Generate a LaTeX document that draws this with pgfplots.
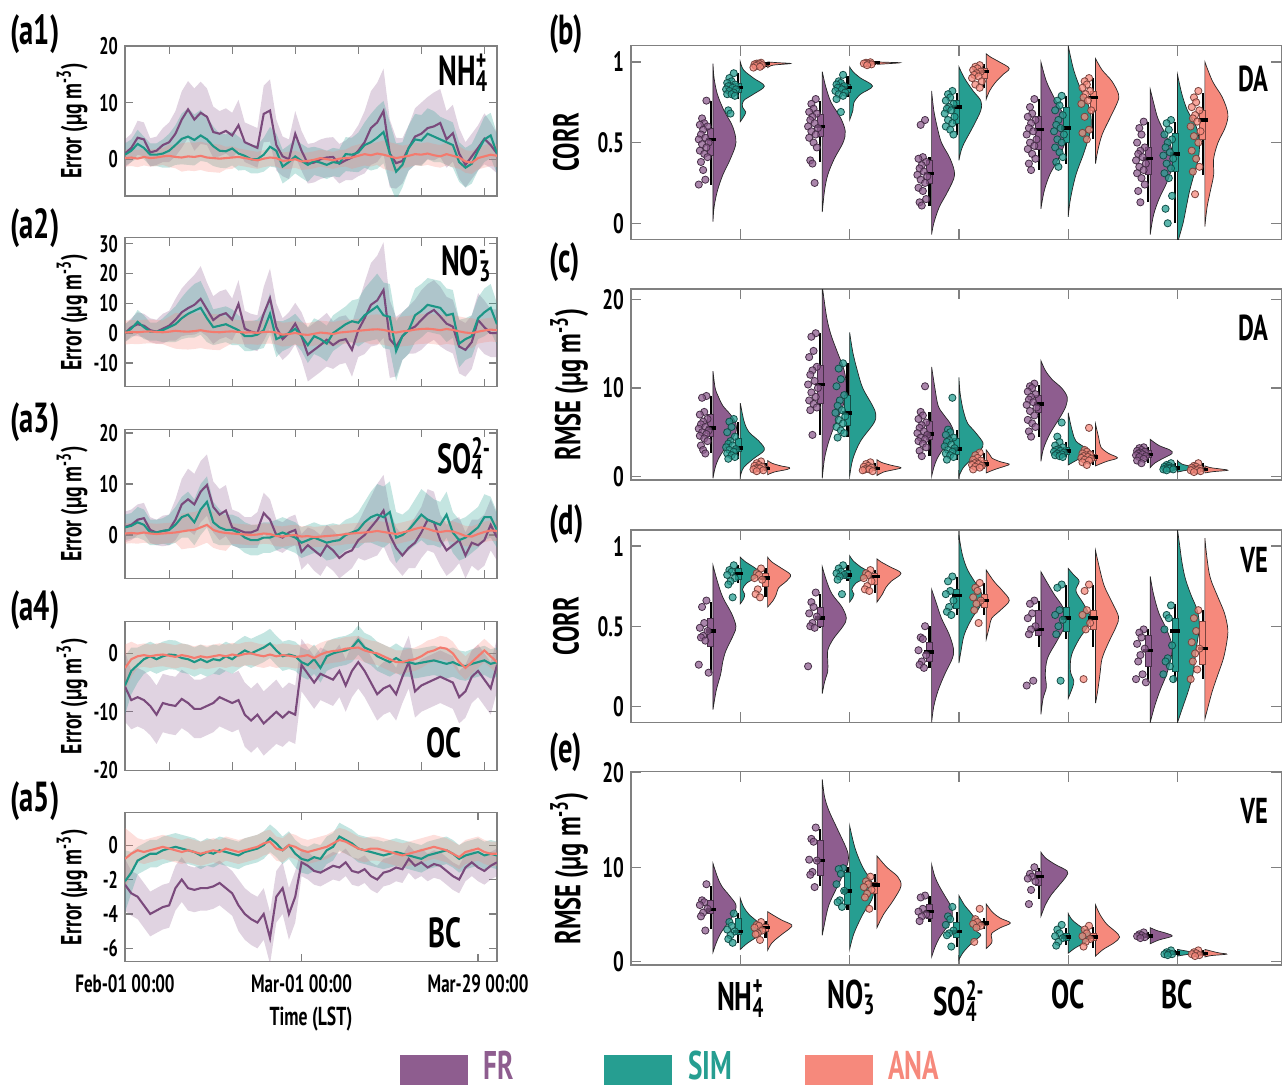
\documentclass[border=0pt]{standalone}
\usepackage{fontspec}
\setmainfont{PT Sans}[FakeStretch=0.68]
\usepackage{pgfplots}
\usepackage{pgfplotstable}
\pgfplotsset{compat=1.18}
\usepgfplotslibrary{statistics}

\definecolor{frc}{HTML}{8E5D8F}
\definecolor{simc}{HTML}{269E91}
\definecolor{anac}{HTML}{F6897C}
\definecolor{frl}{HTML}{7A4A7C}
\definecolor{siml}{HTML}{1C9686}
\definecolor{anal}{HTML}{F47A6E}

\newcommand{\ion}[3]{#1\rlap{\textsubscript{#2}}\textsuperscript{#3}}

% time series: day, mean and spread of each run
\pgfplotstableread{
d fr frs sim sims ana anas
0 1.0 2.5 0.8 2.0 0.2 1.5
1 2.0 2.5 1.5 2.0 0.3 1.5
2 3.8 3.0 2.7 2.5 0.1 1.5
3 3.5 3.0 2.0 2.0 0.4 1.5
4 1.2 2.5 0.8 2.0 0.2 1.5
5 1.5 2.5 0.8 2.0 0.3 1.5
6 2.5 3.0 1.0 2.5 0.5 1.5
7 3.0 3.5 1.5 3.0 0.6 2.0
8 4.5 4.0 2.5 3.5 0.4 2.0
9 7.0 5.0 3.6 4.5 0.3 2.5
10 8.8 5.0 4.0 5.0 0.5 2.5
11 7.0 5.5 3.4 4.5 0.4 2.5
12 8.2 5.5 4.2 4.5 0.6 2.5
13 7.5 5.0 3.5 4.0 0.3 2.5
14 4.8 4.5 2.3 3.5 0.2 2.5
15 4.5 4.0 1.5 3.0 0.1 2.5
16 5.0 4.0 1.4 3.0 0.2 2.0
17 4.2 4.0 1.9 3.0 0.3 2.0
18 6.0 4.5 1.0 3.0 0.4 1.5
19 3.0 3.5 0.6 2.5 0.2 1.5
20 2.5 3.5 0.0 2.5 0.0 1.5
21 2.0 3.5 0.0 2.5 -0.2 1.5
22 8.0 5.0 0.8 3.0 0.1 1.5
23 8.6 5.5 2.2 3.5 0.3 1.5
24 2.5 4.5 1.5 3.0 0.2 1.5
25 0.5 3.5 -1.3 3.0 -0.3 1.5
26 0.0 3.5 -0.5 3.0 -0.2 1.5
27 4.5 4.0 0.5 3.0 0.0 1.5
28 1.5 3.5 -0.3 3.0 -0.4 1.5
29 -0.8 3.5 -1.0 3.0 -0.3 1.5
30 -0.6 3.5 -0.3 2.5 -0.1 1.5
31 0.0 3.5 -0.6 2.5 0.2 1.5
32 0.3 3.5 -1.0 2.5 0.0 1.5
33 0.4 3.5 -0.5 2.5 -0.2 1.5
34 -0.8 3.5 -0.7 2.5 0.1 1.5
35 -0.2 3.5 0.9 3.0 0.2 1.5
36 0.3 4.0 0.8 3.0 0.3 2.0
37 1.5 4.5 1.2 3.5 0.6 2.0
38 3.0 5.5 2.5 4.0 0.9 2.0
39 5.5 6.5 3.0 5.0 0.7 2.0
40 6.5 7.0 3.8 5.5 1.0 2.0
41 8.5 7.5 4.8 5.5 0.8 2.5
42 1.0 6.0 1.0 5.5 0.5 2.5
43 -0.7 4.5 -2.2 5.0 0.2 2.5
44 -0.3 4.0 -1.0 4.0 0.4 2.0
45 2.0 4.0 2.0 4.0 0.6 2.0
46 4.0 5.0 3.5 4.5 0.9 2.0
47 4.5 5.5 3.3 4.5 0.8 2.0
48 5.5 5.5 4.5 4.5 1.0 2.0
49 5.8 6.0 4.0 4.5 0.7 2.0
50 6.4 6.0 3.5 4.0 0.5 2.0
51 3.5 5.0 3.0 4.0 0.9 2.0
52 4.6 5.0 2.5 4.0 0.6 2.0
53 1.0 4.5 -0.5 3.5 0.3 2.0
54 -1.0 4.0 -1.5 3.5 -0.4 2.0
55 0.5 4.0 -0.8 3.5 -0.6 2.0
56 2.0 4.0 1.5 3.5 0.2 2.0
57 3.6 4.5 3.5 4.0 0.5 2.0
58 2.5 4.0 4.2 4.0 0.8 2.0
59 1.0 3.5 1.0 3.5 0.6 2.0
}\tNH
\pgfplotstableread{
d fr frs sim sims ana anas
0 0.0 3 0.0 3 0.2 4
1 2.0 3 1.5 3 0.4 4
2 3.0 4 3.8 4 0.3 4
3 2.5 4 2.0 4 0.5 4
4 1.0 4 0.5 3 0.6 4
5 0.5 4 0.5 3 0.4 4
6 1.5 5 1.0 4 0.3 4
7 2.5 5 2.0 5 0.5 5
8 4.5 7 3.0 6 0.8 6
9 7.0 8 5.0 7 0.6 6
10 8.4 9 6.5 8 0.5 6
11 9.5 10 7.5 9 0.7 6
12 11.5 11 8.5 9 1.0 6
13 8.0 9 5.0 8 0.6 6
14 4.4 8 2.0 6 0.4 6
15 6.0 8 2.5 6 0.3 6
16 6.7 8 3.0 6 0.5 5
17 4.6 7 2.0 6 0.6 4
18 9.8 8 1.0 5 0.4 4
19 1.5 6 -1.0 5 0.2 4
20 0.5 6 -1.0 5 0.3 4
21 0.0 6 -0.5 5 0.1 4
22 6.5 9 1.0 6 0.4 4
23 11.7 10 6.5 7 0.5 4
24 2.0 8 -2.0 6 0.2 4
25 -2.0 7 -1.0 5 -0.5 4
26 0.0 7 0.0 5 -0.3 4
27 3.2 7 1.5 5 0.1 4
28 -1.0 8 -1.0 5 -0.4 4
29 -7.2 9 -4.0 6 -0.6 4
30 -5.6 9 -1.0 6 -0.2 4
31 -4.0 9 -2.0 6 0.2 4
32 -2.2 9 -3.5 6 0.0 4
33 -4.0 8 0.0 6 -0.3 4
34 -2.5 8 1.5 6 0.2 4
35 -2.0 8 3.0 6 0.4 4
36 -5.6 9 4.0 7 0.6 4
37 1.0 9 3.5 8 0.8 4
38 5.0 12 6.0 9 1.0 4
39 9.5 14 7.5 10 1.2 5
40 11.0 15 9.0 11 1.3 5
41 14.5 16 6.0 11 1.1 5
42 -2.0 13 5.5 11 0.6 5
43 -4.5 10 -6.0 10 0.2 5
44 -1.0 8 -1.0 8 0.6 5
45 1.1 8 1.0 8 0.8 5
46 2.2 9 6.0 9 1.2 5
47 4.4 10 7.5 9 1.4 5
48 6.5 10 9.5 9 1.5 5
49 7.8 10 9.0 9 1.3 5
50 5.6 10 8.5 9 1.0 5
51 3.2 9 6.0 9 1.4 5
52 2.2 9 6.5 8 1.1 5
53 -4.5 9 -3.5 8 0.6 5
54 -5.6 9 -2.0 7 0.2 5
55 -3.0 9 -1.0 7 0.0 5
56 4.4 9 5.0 7 0.5 4
57 2.0 9 7.0 8 0.9 4
58 0.0 8 8.5 8 1.2 4
59 0.0 8 3.0 7 1.0 4
}\tNO
\pgfplotstableread{
d fr frs sim sims ana anas
0 1.6 3 1.5 2.5 0.3 2
1 2.0 3 1.8 2.5 0.4 2
2 3.0 3 2.5 3 0.3 2
3 3.3 3 2.0 3 0.5 2
4 1.0 2.5 0.5 2.5 0.3 2
5 0.5 2.5 0.5 2.5 0.2 2
6 0.8 3 0.8 2.5 0.3 2
7 1.0 3 1.0 3 0.4 2
8 3.0 4 2.0 3.5 0.5 2
9 6.0 5 3.5 4 0.7 3.5
10 7.0 6 4.0 4.5 0.9 3.5
11 6.0 6 2.5 4.5 1.0 3.5
12 8.5 6 5.0 5 1.5 3.5
13 9.8 6 6.5 5 2.0 3.5
14 5.5 5 2.5 4 1.0 3.5
15 4.0 5 1.5 3.5 0.6 3.5
16 4.8 5 1.0 3 0.4 3.5
17 1.5 3.5 1.0 3 0.3 2
18 1.0 3.5 0.5 3 0.2 2
19 0.5 3 -0.5 3 0.1 2
20 0.5 3 -1.0 3 0.0 2
21 1.0 3.5 -1.0 3 0.1 2
22 4.3 4 -0.5 3 0.3 2
23 3.0 4 -0.5 3 0.2 2
24 0.0 3 0.0 3 -0.2 2
25 -0.5 3 0.5 3 -0.3 2
26 0.5 3 0.0 3 -0.1 2
27 1.0 3 -0.5 3 0.0 2
28 -3.3 3.5 -1.5 3 -0.3 2
29 -2.0 3.5 -1.0 3 -0.2 2
30 -3.0 4 -0.5 3 -0.4 2
31 -4.0 4 -1.0 3 -0.3 2
32 -2.0 4 -1.5 3.5 -0.2 2
33 -3.0 4 -1.2 3.5 -0.1 2
34 -4.5 4 -1.0 3 0.0 2
35 -3.5 4 0.0 3 0.2 2
36 -3.0 3.5 0.5 3 0.3 2
37 -1.0 3.5 1.0 3.5 0.4 2
38 0.0 5 2.5 4 0.5 2
39 1.5 6 3.5 5 0.6 2
40 3.0 7 4.0 6 0.8 2
41 4.8 7 3.5 6 0.6 2
42 0.0 5 4.5 6 0.4 2
43 -2.5 4 -0.5 5 0.2 2
44 -4.0 4 0.0 4 0.5 2
45 -2.5 4 1.0 4 0.8 2
46 -1.5 5 2.5 4.5 1.2 2
47 0.5 5 4.0 5 1.5 2
48 3.0 6 3.0 5 1.2 2
49 2.5 6 2.5 4.5 0.8 2
50 -1.0 5 2.0 4.5 0.6 2
51 -3.0 5 4.0 4.5 0.8 2
52 -2.0 5 0.5 4 0.7 2
53 -1.0 4.5 -1.0 4 0.3 2
54 -4.0 4.5 -0.5 4 -0.2 2
55 -1.5 4.5 0.5 4 -0.3 2
56 -2.0 5 1.5 4 0.2 2
57 -1.0 5 3.5 4.5 0.6 2
58 2.0 5 3.5 4 0.9 2
59 -0.5 4.5 1.0 3.5 0.8 2
}\tSO
\pgfplotstableread{
d fr frs sim sims ana anas
0 -5.7 6 -5.5 5 -2.5 4
1 -8.0 5 -3.0 4 -1.0 3
2 -7.5 5 -2.0 3 -0.5 2
3 -8.0 5 -1.0 2.5 -0.3 2
4 -9.0 5 -0.5 2.5 -0.5 2
5 -10.5 5 -1.0 2.5 -0.3 2
6 -8.5 5 -0.5 2.5 -0.2 2
7 -8.8 5 -0.2 2.5 -0.4 2
8 -9.0 5 -0.3 2.5 -0.6 2
9 -7.8 5 -0.8 2.5 -0.3 2
10 -8.5 5 -1.0 2.5 -0.5 2
11 -9.5 5 -1.5 2.5 -0.8 2
12 -9.5 5 -1.0 2.5 -0.5 2
13 -9.0 5 -1.5 2.5 -0.7 2
14 -8.5 5 -1.0 2.5 -0.5 2
15 -7.5 5 -1.2 2.5 -0.3 2
16 -8.0 5 -0.5 2.5 -0.5 2
17 -8.5 5 -1.0 2.5 -0.2 2
18 -8.0 5 -0.2 2.5 -0.4 2
19 -10.5 5.5 0.5 2.5 -0.1 2
20 -11.5 5.5 0.0 2.5 0.0 2
21 -10.5 5.5 0.5 2.5 -0.3 2
22 -12.0 5.5 1.0 2.5 -0.5 2
23 -11.0 5.5 1.7 2.5 -0.2 2
24 -10.0 5.5 0.5 2.5 -0.5 2
25 -11.0 5 -0.5 2.5 -0.3 2
26 -10.0 5 -0.2 2.5 -0.4 2
27 -10.5 5 -0.5 2.5 -0.6 2
28 -2.0 4.5 -1.5 2.5 -0.5 2
29 -3.5 4.5 -2.0 2.5 -0.3 2
30 -5.0 4.5 -1.0 2.5 -0.8 2
31 -3.5 4.5 -2.5 2.5 -0.2 2
32 -4.0 4.5 -0.5 2.5 0.2 2
33 -4.5 4.5 0.0 2.5 0.4 2
34 -3.0 4.5 0.3 2.5 0.5 2
35 -5.5 4.5 0.5 2.5 0.8 2
36 -3.0 4.5 1.0 2.5 0.9 2
37 -1.5 4.5 2.3 2.5 1.0 2
38 -3.0 4.5 1.0 2.5 0.5 2
39 -5.0 4.5 0.5 2.5 0.2 2
40 -7.0 4.5 -0.5 2.5 0.0 2
41 -6.0 4.5 -1.0 2.5 -0.5 2
42 -5.5 4.5 -1.5 2.5 -1.0 2
43 -7.0 4.5 -0.8 2.5 -1.5 2
44 -4.0 4.5 -1.5 2.5 -1.5 2
45 -1.5 4.5 -1.5 2.5 -1.2 2
46 -6.5 4.5 -1.8 2.5 -1.0 2
47 -5.5 4.5 -1.6 2.5 -0.5 2
48 -5.0 4.5 -1.4 2.5 0.2 2
49 -4.5 4.5 -1.2 2.5 0.5 2
50 -4.0 4.5 -1.5 2.5 1.0 2
51 -4.5 4.5 -1.8 2.5 0.8 2
52 -5.0 4.5 -1.5 2.5 0.0 2
53 -7.5 4.5 -2.0 2.5 -1.5 2
54 -6.5 4.5 -2.2 2.5 -2.5 2
55 -4.0 4.5 -1.8 2.5 -1.5 2
56 -3.0 4.5 -1.5 2.5 -0.5 2
57 -4.5 4.5 -1.2 2.5 0.5 2
58 -6.0 4.5 -1.8 2.5 -0.5 2
59 -2.0 4.5 -1.5 2.5 -1.5 2
}\tOC
\pgfplotstableread{
d fr frs sim sims ana anas
0 -2.3 1.5 -2.1 1.8 -0.8 1.8
1 -2.8 1.3 -1.6 1.2 -0.5 1.2
2 -3.0 1.3 -0.9 0.8 -0.3 0.7
3 -3.5 1.3 -0.7 0.8 -0.4 0.7
4 -4.0 1.3 -0.5 0.8 -0.3 0.7
5 -3.8 1.3 -0.5 0.8 -0.2 0.7
6 -3.6 1.3 -0.3 0.8 -0.1 0.7
7 -3.5 1.3 -0.2 0.8 -0.2 0.7
8 -2.5 1.3 -0.1 0.8 -0.3 0.7
9 -2.0 1.3 -0.2 0.8 -0.4 0.7
10 -2.5 1.3 -0.3 0.8 -0.3 0.7
11 -2.6 1.3 -0.4 0.8 -0.4 0.7
12 -2.5 1.3 -0.6 0.8 -0.5 0.7
13 -2.5 1.3 -0.4 0.8 -0.4 0.7
14 -2.4 1.3 -0.5 0.8 -0.3 0.7
15 -2.2 1.3 -0.3 0.8 -0.4 0.7
16 -2.5 1.3 -0.4 0.8 -0.2 0.7
17 -2.8 1.3 -0.5 0.8 -0.3 0.7
18 -3.5 1.5 -0.6 0.8 -0.4 0.7
19 -4.0 1.5 -0.4 0.8 -0.3 0.7
20 -4.3 1.5 -0.3 0.8 -0.2 0.7
21 -4.5 1.5 -0.2 0.8 -0.1 0.7
22 -4.0 1.5 0.0 0.8 0.1 0.7
23 -5.4 1.5 0.4 0.8 0.2 0.7
24 -3.0 1.5 0.1 0.8 -0.2 0.7
25 -2.5 1.5 -0.3 0.8 -0.3 0.7
26 -4.0 1.5 0.0 0.8 0.0 0.7
27 -3.0 1.5 -0.5 0.8 -0.1 0.7
28 -1.0 0.8 -0.8 0.8 -0.3 0.7
29 -1.2 0.8 -0.9 0.8 -0.4 0.7
30 -1.5 0.8 -0.7 0.8 -0.3 0.7
31 -1.6 0.8 -0.8 0.8 -0.2 0.7
32 -1.4 0.8 -0.3 0.8 -0.1 0.7
33 -1.2 0.8 -0.1 0.8 0.1 0.7
34 -1.3 0.8 0.5 0.8 0.3 0.7
35 -1.0 0.8 0.3 0.8 0.2 0.7
36 -1.5 0.8 0.1 0.8 0.0 0.7
37 -1.6 0.8 -0.2 0.8 -0.2 0.7
38 -1.4 0.8 -0.3 0.8 -0.3 0.7
39 -1.8 0.8 -0.4 0.8 -0.2 0.7
40 -2.0 0.8 -0.5 0.8 -0.2 0.7
41 -1.6 0.8 -0.6 0.8 -0.3 0.7
42 -1.5 0.8 -0.5 0.8 -0.4 0.7
43 -1.3 0.8 -0.4 0.8 -0.5 0.7
44 -1.4 0.8 -0.5 0.8 -0.6 0.7
45 -0.8 0.8 -0.6 0.8 -0.5 0.7
46 -1.2 0.8 -0.7 0.8 -0.4 0.7
47 -1.0 0.8 -0.8 0.8 -0.3 0.7
48 -1.3 0.8 -0.6 0.8 -0.2 0.7
49 -1.1 0.8 -0.5 0.8 -0.1 0.7
50 -1.2 0.8 -0.4 0.8 -0.2 0.7
51 -1.5 0.8 -0.3 0.8 -0.3 0.7
52 -1.8 0.8 -0.5 0.8 -0.5 0.7
53 -2.0 0.8 -0.8 0.8 -0.7 0.7
54 -1.3 0.8 -0.6 0.8 -0.4 0.7
55 -1.0 0.8 -0.5 0.8 -0.3 0.7
56 -1.3 0.8 -0.4 0.8 -0.2 0.7
57 -1.5 0.8 -0.6 0.8 -0.4 0.7
58 -1.2 0.8 -0.5 0.8 -0.5 0.7
59 -1.0 0.8 -0.6 0.8 -0.5 0.7
}\tBC

% spread band (mean - spread up to mean + spread) of one run, built with stacked plots
\newcommand{\band}[4]{%
  \addplot[draw=none, stack plots=y] table[x=d, y expr=\thisrow{#2}-\thisrow{#3}] {#1};
  \addplot[draw=none, fill=#4, fill opacity=0.27, stack plots=y] table[x=d, y expr=2*\thisrow{#3}] {#1} \closedcycle;
  \addplot[draw=none, stack plots=y] table[x=d, y expr=-\thisrow{#2}-\thisrow{#3}] {#1};}
\newcommand{\mline}[3]{\addplot[#3, line width=1.05pt] table[x=d, y=#2] {#1};}

% half violin: rows are (value, half width)
\newcommand{\vio}[3]{\addplot[smooth, tension=0.55, fill=#2, draw=black!85, line width=0.35pt]
  table[row sep=\\, header=false, x expr={#1+\thisrowno{1}}, y expr=\thisrowno{0}] {#3} -- cycle;}
% jittered stations: rows are (offset, value)
\newcommand{\pts}[3]{\addplot[only marks, mark=*, mark size=1.8pt,
  mark options={fill=#2, draw=#2!50!black, fill opacity=0.75, line width=0.4pt}]
  table[row sep=\\, header=false, x expr={#1+\thisrowno{0}}, y expr=\thisrowno{1}] {#3};}
% box: position, colour, lower whisker, q1, median, q3, upper whisker
\newcommand{\bx}[7]{\addplot[boxplot prepared={draw direction=y, draw position=#1, lower whisker=#3,
  lower quartile=#4, median=#5, upper quartile=#6, upper whisker=#7,
  box extend=0.055, whisker extend=0,
  every box/.style={fill=#2, draw=#2!50!black, line width=0.4pt},
  every whisker/.style={black, line width=1.1pt},
  every median/.style={black, line width=1.7pt, shorten <=-1pt, shorten >=-1pt}}] coordinates {};}

\pgfplotsset{
  base/.style={scale only axis,
    axis line style={black!50, line width=0.6pt},
    tick style={black!50, line width=0.6pt}, tick align=inside,
    major tick length=4pt,
    /pgf/number format/assume math mode=true},
  ts/.style={base, width=186pt, xmin=0, xmax=59,
    xtick={7,17,27,37,47,57}, xticklabels={},
    tick label style={font=\fontsize{12}{12}\selectfont},
    ylabel={Error (µg m\textsuperscript{-3})},
    every axis y label/.style={at={(axis description cs:-0.142,0.5)}, rotate=90, anchor=center,
      font=\fontsize{14.5}{14.5}\selectfont}},
  rc/.style={base, width=325.2pt, xmin=0, xmax=5.95,
    xtick={1,2,3,4,5}, xticklabels={}, major tick length=5pt,
    tick label style={font=\fontsize{14}{14}\selectfont},
    every axis y label/.style={at={(axis description cs:-0.1,0.5)}, rotate=90, anchor=center,
      font=\fontsize{18}{18}\selectfont}},
}

\begin{document}
\bfseries
\begin{tikzpicture}
\useasboundingbox (0,0) rectangle (641pt,-544pt);

% ---------------- time series ----------------
\begin{axis}[ts, at={(62.5pt,-23pt)}, anchor=north west, height=75pt,
  ymin=-6.5, ymax=20, ytick={0,10,20}]
\band{\tNH}{fr}{frs}{frc}\band{\tNH}{sim}{sims}{simc}\band{\tNH}{ana}{anas}{anac}
\mline{\tNH}{fr}{frl}\mline{\tNH}{sim}{siml}\mline{\tNH}{ana}{anal}
\node[anchor=north east, inner sep=0, font=\fontsize{21}{21}\selectfont] at (rel axis cs:0.975,0.95) {\ion{NH}{4}{+}};
\end{axis}

\begin{axis}[ts, at={(62.5pt,-118.9pt)}, anchor=north west, height=74.5pt,
  ymin=-18, ymax=32, ytick={-10,0,10,20,30}]
\band{\tNO}{fr}{frs}{frc}\band{\tNO}{sim}{sims}{simc}\band{\tNO}{ana}{anas}{anac}
\mline{\tNO}{fr}{frl}\mline{\tNO}{sim}{siml}\mline{\tNO}{ana}{anal}
\node[anchor=north east, inner sep=0, font=\fontsize{21}{21}\selectfont] at (rel axis cs:0.975,0.95) {\ion{NO}{3}{-}};
\end{axis}

\begin{axis}[ts, at={(62.5pt,-214.7pt)}, anchor=north west, height=74.5pt,
  ymin=-8.5, ymax=20.7, ytick={0,10,20}]
\band{\tSO}{fr}{frs}{frc}\band{\tSO}{sim}{sims}{simc}\band{\tSO}{ana}{anas}{anac}
\mline{\tSO}{fr}{frl}\mline{\tSO}{sim}{siml}\mline{\tSO}{ana}{anal}
\node[anchor=north east, inner sep=0, font=\fontsize{21}{21}\selectfont] at (rel axis cs:0.985,0.95) {\ion{SO}{4}{2-}};
\end{axis}

\begin{axis}[ts, at={(62.5pt,-310.9pt)}, anchor=north west, height=74.2pt,
  ymin=-20, ymax=5.4, ytick={-20,-10,0}]
\band{\tOC}{fr}{frs}{frc}\band{\tOC}{sim}{sims}{simc}\band{\tOC}{ana}{anas}{anac}
\mline{\tOC}{fr}{frl}\mline{\tOC}{sim}{siml}\mline{\tOC}{ana}{anal}
\node[anchor=south east, inner sep=0, font=\fontsize{21}{21}\selectfont] at (rel axis cs:0.906,0.08) {OC};
\end{axis}

\begin{axis}[ts, at={(62.5pt,-406.2pt)}, anchor=north west, height=74.7pt,
  ymin=-6.78, ymax=1.9, ytick={-6,-4,-2,0},
  xtick={0,28,56}, xticklabels={Feb-01 00:00, Mar-01 00:00, Mar-29 00:00},
  xticklabel style={font=\fontsize{12.5}{12.5}\selectfont, yshift=-3pt},
  xlabel={Time (LST)}, xlabel style={font=\fontsize{13}{13}\selectfont}]
\band{\tBC}{fr}{frs}{frc}\band{\tBC}{sim}{sims}{simc}\band{\tBC}{ana}{anas}{anac}
\mline{\tBC}{fr}{frl}\mline{\tBC}{sim}{siml}\mline{\tBC}{ana}{anal}
\node[anchor=south east, inner sep=0, font=\fontsize{21}{21}\selectfont] at (rel axis cs:0.906,0.09) {BC};
\end{axis}

% ---------------- (b) CORR, DA ----------------
\begin{axis}[rc, at={(315.5pt,-22.9pt)}, anchor=north west, height=96.8pt,
  ymin=-0.1, ymax=1.1, ytick={0,0.5,1}, ylabel={CORR}]
\vio{0.75}{frc}{0.01 0\\0.1 0.01\\0.2 0.04\\0.3 0.09\\0.4 0.16\\0.5 0.21\\0.6 0.18\\0.7 0.1\\0.8 0.04\\0.9 0.01\\0.99 0\\}
\vio{1.0}{simc}{0.63 0\\0.66 0.03\\0.69 0.05\\0.72 0.02\\0.76 0.03\\0.8 0.12\\0.85 0.22\\0.9 0.12\\0.95 0.03\\1.0 0\\}
\vio{1.25}{anac}{0.965 0\\0.98 0.05\\0.99 0.21\\0.995 0.1\\1.0 0\\}
\vio{1.75}{frc}{0.07 0\\0.2 0.02\\0.3 0.05\\0.4 0.11\\0.5 0.19\\0.57 0.21\\0.65 0.17\\0.75 0.08\\0.85 0.03\\0.94 0\\}
\vio{2.0}{simc}{0.64 0\\0.7 0.03\\0.75 0.04\\0.8 0.1\\0.85 0.21\\0.9 0.1\\0.94 0.03\\0.97 0\\}
\vio{2.25}{anac}{0.985 0\\0.99 0.12\\0.995 0.21\\0.998 0.08\\1.0 0\\}
\vio{2.75}{frc}{-0.07 0\\0.0 0.02\\0.1 0.07\\0.2 0.15\\0.3 0.21\\0.4 0.17\\0.5 0.09\\0.6 0.05\\0.7 0.02\\0.82 0\\}
\vio{3.0}{simc}{0.39 0\\0.45 0.02\\0.5 0.05\\0.6 0.13\\0.7 0.2\\0.76 0.2\\0.82 0.13\\0.9 0.05\\0.97 0\\}
\vio{3.25}{anac}{0.77 0\\0.82 0.03\\0.87 0.08\\0.92 0.15\\0.96 0.21\\1.0 0.12\\1.03 0.04\\1.05 0\\}
\vio{3.75}{frc}{0.09 0\\0.2 0.03\\0.3 0.08\\0.4 0.16\\0.5 0.22\\0.58 0.24\\0.68 0.2\\0.78 0.12\\0.88 0.05\\1.0 0\\}
\vio{4.0}{simc}{0.04 0\\0.15 0.02\\0.3 0.07\\0.45 0.15\\0.6 0.21\\0.72 0.19\\0.82 0.12\\0.95 0.05\\1.1 0\\}
\vio{4.25}{anac}{0.37 0\\0.45 0.02\\0.55 0.06\\0.65 0.13\\0.75 0.2\\0.8 0.21\\0.88 0.15\\0.95 0.06\\1.02 0\\}
\vio{4.75}{frc}{-0.07 0\\0.05 0.03\\0.15 0.08\\0.25 0.15\\0.35 0.2\\0.45 0.2\\0.55 0.14\\0.65 0.07\\0.75 0.03\\0.83 0\\}
\vio{5.0}{simc}{-0.12 0\\0.0 0.05\\0.1 0.08\\0.2 0.11\\0.3 0.15\\0.4 0.19\\0.5 0.2\\0.6 0.17\\0.7 0.09\\0.8 0.04\\0.92 0\\}
\vio{5.25}{anac}{-0.02 0\\0.1 0.02\\0.2 0.05\\0.3 0.08\\0.4 0.08\\0.5 0.12\\0.6 0.19\\0.68 0.21\\0.78 0.16\\0.88 0.07\\1.0 0\\}
\pts{0.75}{frc}{-0.06 0.76\\-0.10 0.65\\-0.08 0.62\\-0.12 0.61\\-0.05 0.6\\-0.09 0.58\\-0.11 0.55\\-0.07 0.53\\-0.13 0.52\\-0.04 0.5\\-0.10 0.49\\-0.06 0.47\\-0.12 0.45\\-0.08 0.43\\-0.05 0.41\\-0.11 0.38\\-0.09 0.33\\-0.07 0.27\\-0.13 0.24\\}
\pts{1.0}{simc}{-0.06 0.93\\-0.10 0.9\\-0.08 0.88\\-0.12 0.87\\-0.05 0.86\\-0.09 0.85\\-0.11 0.85\\-0.07 0.84\\-0.13 0.83\\-0.04 0.83\\-0.10 0.82\\-0.06 0.81\\-0.12 0.8\\-0.08 0.8\\-0.05 0.79\\-0.11 0.7\\-0.09 0.68\\}
\pts{1.25}{anac}{-0.06 0.995\\-0.10 0.99\\-0.08 0.99\\-0.12 0.985\\-0.05 0.98\\-0.09 0.98\\-0.11 0.975\\-0.07 0.97\\-0.13 0.965\\}
\pts{1.75}{frc}{-0.06 0.77\\-0.10 0.74\\-0.08 0.71\\-0.12 0.69\\-0.05 0.68\\-0.09 0.66\\-0.11 0.64\\-0.07 0.62\\-0.13 0.6\\-0.04 0.59\\-0.10 0.57\\-0.06 0.55\\-0.12 0.53\\-0.08 0.5\\-0.05 0.47\\-0.11 0.39\\-0.09 0.37\\-0.07 0.25\\}
\pts{2.0}{simc}{-0.06 0.92\\-0.10 0.88\\-0.08 0.87\\-0.12 0.86\\-0.05 0.85\\-0.09 0.84\\-0.11 0.84\\-0.07 0.83\\-0.13 0.82\\-0.04 0.81\\-0.10 0.8\\-0.06 0.79\\-0.12 0.77\\-0.08 0.69\\}
\pts{2.25}{anac}{-0.06 0.998\\-0.10 0.995\\-0.08 0.99\\-0.12 0.99\\-0.05 0.985\\-0.09 0.98\\}
\pts{2.75}{frc}{-0.06 0.64\\-0.10 0.61\\-0.08 0.41\\-0.12 0.4\\-0.05 0.38\\-0.09 0.36\\-0.11 0.34\\-0.07 0.32\\-0.13 0.3\\-0.04 0.29\\-0.10 0.27\\-0.06 0.25\\-0.12 0.22\\-0.08 0.2\\-0.05 0.15\\-0.11 0.13\\-0.09 0.11\\}
\pts{3.0}{simc}{-0.06 0.82\\-0.10 0.8\\-0.08 0.78\\-0.12 0.76\\-0.05 0.74\\-0.09 0.72\\-0.11 0.71\\-0.07 0.7\\-0.13 0.68\\-0.04 0.66\\-0.10 0.64\\-0.06 0.62\\-0.12 0.6\\-0.08 0.58\\-0.05 0.55\\}
\pts{3.25}{anac}{-0.06 0.98\\-0.10 0.97\\-0.08 0.96\\-0.12 0.95\\-0.05 0.94\\-0.09 0.93\\-0.11 0.92\\-0.07 0.91\\-0.13 0.9\\-0.04 0.88\\-0.10 0.86\\-0.06 0.84\\}
\pts{3.75}{frc}{-0.06 0.77\\-0.10 0.72\\-0.08 0.68\\-0.12 0.66\\-0.05 0.64\\-0.09 0.62\\-0.11 0.59\\-0.07 0.57\\-0.13 0.55\\-0.04 0.52\\-0.10 0.5\\-0.06 0.48\\-0.12 0.46\\-0.08 0.43\\-0.05 0.4\\-0.11 0.37\\-0.09 0.33\\}
\pts{4.0}{simc}{-0.06 0.79\\-0.10 0.76\\-0.08 0.73\\-0.12 0.7\\-0.05 0.67\\-0.09 0.64\\-0.11 0.61\\-0.07 0.59\\-0.13 0.57\\-0.04 0.55\\-0.10 0.52\\-0.06 0.5\\-0.12 0.47\\-0.08 0.44\\-0.05 0.41\\-0.11 0.38\\-0.09 0.35\\}
\pts{4.25}{anac}{-0.06 0.9\\-0.10 0.88\\-0.08 0.86\\-0.12 0.84\\-0.05 0.82\\-0.09 0.8\\-0.11 0.78\\-0.07 0.76\\-0.13 0.74\\-0.04 0.7\\-0.10 0.66\\-0.06 0.58\\-0.12 0.56\\-0.08 0.52\\}
\pts{4.75}{frc}{-0.06 0.63\\-0.10 0.59\\-0.08 0.55\\-0.12 0.5\\-0.05 0.47\\-0.09 0.45\\-0.11 0.43\\-0.07 0.41\\-0.13 0.39\\-0.04 0.37\\-0.10 0.35\\-0.06 0.33\\-0.12 0.31\\-0.08 0.28\\-0.05 0.24\\-0.11 0.2\\-0.09 0.13\\}
\pts{5.0}{simc}{-0.06 0.64\\-0.10 0.62\\-0.08 0.58\\-0.12 0.55\\-0.05 0.52\\-0.09 0.5\\-0.11 0.47\\-0.07 0.44\\-0.13 0.42\\-0.04 0.4\\-0.10 0.37\\-0.06 0.34\\-0.12 0.31\\-0.08 0.28\\-0.05 0.17\\-0.11 0.09\\-0.09 0.0\\}
\pts{5.25}{anac}{-0.06 0.82\\-0.10 0.78\\-0.08 0.75\\-0.12 0.72\\-0.05 0.7\\-0.09 0.67\\-0.11 0.65\\-0.07 0.63\\-0.13 0.6\\-0.04 0.57\\-0.10 0.54\\-0.06 0.5\\-0.12 0.45\\-0.08 0.4\\-0.05 0.35\\-0.11 0.32\\-0.09 0.18\\}
\bx{0.73}{frc}{0.24}{0.42}{0.52}{0.59}{0.76}
\bx{0.98}{simc}{0.77}{0.81}{0.84}{0.87}{0.93}
\bx{1.23}{anac}{0.97}{0.98}{0.99}{0.995}{1.0}
\bx{1.73}{frc}{0.38}{0.54}{0.6}{0.675}{0.76}
\bx{1.98}{simc}{0.78}{0.81}{0.84}{0.86}{0.91}
\bx{2.23}{anac}{0.985}{0.99}{0.995}{0.997}{1.0}
\bx{2.73}{frc}{0.11}{0.25}{0.31}{0.39}{0.41}
\bx{2.98}{simc}{0.55}{0.62}{0.72}{0.76}{0.81}
\bx{3.23}{anac}{0.84}{0.9}{0.94}{0.96}{0.99}
\bx{3.73}{frc}{0.33}{0.46}{0.58}{0.665}{0.77}
\bx{3.98}{simc}{0.37}{0.5}{0.59}{0.72}{0.79}
\bx{4.23}{anac}{0.52}{0.7}{0.78}{0.82}{0.9}
\bx{4.73}{frc}{0.13}{0.3}{0.4}{0.47}{0.63}
\bx{4.98}{simc}{0.0}{0.32}{0.43}{0.56}{0.63}
\bx{5.23}{anac}{0.3}{0.52}{0.64}{0.7}{0.81}
\node[anchor=north east, inner sep=0, font=\fontsize{18}{18}\selectfont] at (rel axis cs:0.98,0.9) {DA};
\end{axis}

% ---------------- (c) RMSE, DA ----------------
\begin{axis}[rc, at={(315.5pt,-144.5pt)}, anchor=north west, height=95.5pt,
  ymin=-0.4, ymax=21.2, ytick={0,10,20}, ylabel={RMSE (µg m\textsuperscript{-3})},
  every axis y label/.append style={at={(axis description cs:-0.095,0.5)}}]
\vio{0.75}{frc}{-0.2 0\\1 0.02\\2 0.05\\3 0.1\\4 0.16\\5 0.21\\6 0.21\\7 0.16\\8 0.09\\9 0.05\\10 0.02\\11.9 0\\}
\vio{1.0}{simc}{0 0\\1 0.03\\2 0.12\\3 0.22\\4 0.17\\5 0.08\\6 0.04\\7 0.02\\8.3 0\\}
\vio{1.25}{anac}{0.2 0\\0.5 0.06\\0.8 0.18\\1.0 0.2\\1.2 0.12\\1.5 0.04\\1.8 0\\}
\vio{1.75}{frc}{-0.2 0\\2 0.02\\4 0.06\\6 0.12\\8 0.19\\10 0.22\\12 0.2\\14 0.14\\16 0.08\\18 0.04\\21.5 0\\}
\vio{2.0}{simc}{0 0\\2 0.03\\4 0.1\\6 0.22\\7 0.24\\8 0.21\\10 0.12\\12 0.07\\14 0.03\\16.3 0\\}
\vio{2.25}{anac}{0.1 0\\0.5 0.06\\0.8 0.17\\1.0 0.22\\1.3 0.12\\1.6 0.04\\1.9 0\\}
\vio{2.75}{frc}{0 0\\1 0.02\\2 0.05\\3 0.1\\4 0.16\\5 0.2\\6 0.17\\7 0.11\\8 0.06\\10 0.03\\12.4 0\\}
\vio{3.0}{simc}{0 0\\1 0.04\\2 0.12\\3 0.2\\3.8 0.22\\5 0.15\\6 0.08\\7 0.05\\8 0.03\\9.5 0.01\\11.2 0\\}
\vio{3.25}{anac}{0.4 0\\0.8 0.08\\1.2 0.18\\1.4 0.21\\1.7 0.12\\2.1 0.05\\2.5 0.03\\3.0 0\\}
\vio{3.75}{frc}{1.7 0\\3 0.02\\4 0.05\\5 0.09\\6 0.14\\7 0.19\\8 0.23\\9 0.24\\10 0.19\\11 0.1\\12 0.04\\13.1 0\\}
\vio{4.0}{simc}{1.3 0\\2 0.1\\2.7 0.21\\3.3 0.15\\4 0.07\\5 0.04\\6 0.02\\7.2 0\\}
\vio{4.25}{anac}{1.2 0\\1.7 0.1\\2.1 0.2\\2.6 0.12\\3.3 0.05\\4.3 0.03\\5.9 0\\}
\vio{4.75}{frc}{1.0 0\\1.5 0.04\\2.0 0.11\\2.6 0.2\\3.0 0.18\\3.5 0.08\\4.2 0\\}
\vio{5.0}{simc}{0.5 0\\0.7 0.08\\0.9 0.2\\1.1 0.14\\1.4 0.04\\1.8 0\\}
\vio{5.25}{anac}{0.4 0\\0.55 0.08\\0.7 0.21\\0.85 0.14\\1.0 0.05\\1.2 0\\}
\pts{0.75}{frc}{-0.06 9.1\\-0.10 8.9\\-0.08 7.3\\-0.12 7.0\\-0.05 6.5\\-0.09 6.2\\-0.11 5.9\\-0.07 5.6\\-0.13 5.4\\-0.04 5.2\\-0.10 5.0\\-0.06 4.8\\-0.12 4.6\\-0.08 4.3\\-0.05 4.0\\-0.11 3.5\\-0.09 3.0\\-0.07 2.6\\}
\pts{1.0}{simc}{-0.06 6.5\\-0.10 6.2\\-0.08 5.6\\-0.12 5.0\\-0.05 4.5\\-0.09 4.0\\-0.11 3.7\\-0.07 3.5\\-0.13 3.3\\-0.04 3.1\\-0.10 3.0\\-0.06 2.8\\-0.12 2.6\\-0.08 2.4\\-0.05 2.2\\-0.11 2.0\\}
\pts{1.25}{anac}{-0.06 1.7\\-0.10 1.5\\-0.08 1.3\\-0.12 1.2\\-0.05 1.1\\-0.09 1.0\\-0.11 0.9\\-0.07 0.9\\-0.13 0.8\\-0.04 0.7\\-0.10 0.6\\}
\pts{1.75}{frc}{-0.06 16.2\\-0.10 15.8\\-0.08 14.2\\-0.12 13.5\\-0.05 12.4\\-0.09 12.0\\-0.11 11.5\\-0.07 10.8\\-0.13 10.4\\-0.04 10.0\\-0.10 9.5\\-0.06 9.0\\-0.12 8.6\\-0.08 8.2\\-0.05 7.8\\-0.11 7.5\\-0.09 4.7\\}
\pts{2.0}{simc}{-0.06 12.8\\-0.10 12.2\\-0.08 11.0\\-0.12 10.2\\-0.05 9.2\\-0.09 8.6\\-0.11 8.0\\-0.07 7.5\\-0.13 7.2\\-0.04 6.8\\-0.10 6.4\\-0.06 6.0\\-0.12 5.6\\-0.08 5.2\\-0.05 4.9\\-0.11 4.4\\}
\pts{2.25}{anac}{-0.06 1.6\\-0.10 1.4\\-0.08 1.2\\-0.12 1.1\\-0.05 1.0\\-0.09 0.9\\-0.11 0.8\\-0.07 0.8\\-0.13 0.7\\-0.04 0.6\\}
\pts{2.75}{frc}{-0.06 10.2\\-0.10 7.3\\-0.08 6.9\\-0.12 6.5\\-0.05 6.1\\-0.09 5.8\\-0.11 5.5\\-0.07 5.1\\-0.13 4.9\\-0.04 4.7\\-0.10 4.4\\-0.06 4.2\\-0.12 4.0\\-0.08 3.7\\-0.05 3.3\\-0.11 2.9\\-0.09 2.3\\}
\pts{3.0}{simc}{-0.06 8.9\\-0.10 5.3\\-0.08 5.0\\-0.12 4.7\\-0.05 4.4\\-0.09 4.1\\-0.11 3.9\\-0.07 3.6\\-0.13 3.4\\-0.04 3.2\\-0.10 3.0\\-0.06 2.8\\-0.12 2.6\\-0.08 2.4\\-0.05 2.2\\-0.11 1.9\\}
\pts{3.25}{anac}{-0.06 2.7\\-0.10 2.4\\-0.08 2.1\\-0.12 1.9\\-0.05 1.8\\-0.09 1.6\\-0.11 1.5\\-0.07 1.4\\-0.13 1.3\\-0.04 1.2\\-0.10 1.1\\-0.06 1.0\\-0.12 0.8\\}
\pts{3.75}{frc}{-0.06 10.5\\-0.10 10.2\\-0.08 10.0\\-0.12 9.6\\-0.05 9.3\\-0.09 9.0\\-0.11 8.7\\-0.07 8.4\\-0.13 8.1\\-0.04 7.8\\-0.10 7.4\\-0.06 6.9\\-0.12 6.4\\-0.08 6.0\\-0.05 5.6\\-0.11 5.1\\-0.09 4.5\\}
\pts{4.0}{simc}{-0.06 6.1\\-0.10 4.5\\-0.08 3.9\\-0.12 3.5\\-0.05 3.3\\-0.09 3.1\\-0.11 3.0\\-0.07 2.9\\-0.13 2.8\\-0.04 2.7\\-0.10 2.6\\-0.06 2.5\\-0.12 2.4\\-0.08 2.3\\-0.05 2.2\\}
\pts{4.25}{anac}{-0.06 5.5\\-0.10 3.0\\-0.08 2.8\\-0.12 2.6\\-0.05 2.5\\-0.09 2.4\\-0.11 2.3\\-0.07 2.2\\-0.13 2.1\\-0.04 2.0\\-0.10 1.9\\-0.06 1.8\\-0.12 1.6\\-0.08 1.3\\}
\pts{4.75}{frc}{-0.06 3.3\\-0.10 3.2\\-0.08 3.0\\-0.12 2.9\\-0.05 2.8\\-0.09 2.7\\-0.11 2.6\\-0.07 2.5\\-0.13 2.4\\-0.04 2.3\\-0.10 2.2\\-0.06 2.0\\-0.12 1.8\\-0.08 1.5\\}
\pts{5.0}{simc}{-0.06 1.5\\-0.10 1.3\\-0.08 1.2\\-0.12 1.1\\-0.05 1.0\\-0.09 1.0\\-0.11 0.9\\-0.07 0.9\\-0.13 0.8\\-0.04 0.8\\-0.10 0.7\\}
\pts{5.25}{anac}{-0.06 1.5\\-0.10 1.2\\-0.08 1.1\\-0.12 1.0\\-0.05 0.9\\-0.09 0.8\\-0.11 0.8\\-0.07 0.7\\-0.13 0.7\\-0.04 0.6\\-0.10 0.5\\}
\bx{0.73}{frc}{2.6}{4.5}{5.5}{7.0}{9.1}
\bx{0.98}{simc}{2.0}{2.8}{3.2}{4.3}{6.2}
\bx{1.23}{anac}{0.6}{0.75}{0.9}{1.1}{1.5}
\bx{1.73}{frc}{4.7}{8.3}{10.4}{12.6}{16.2}
\bx{1.98}{simc}{4.5}{5.8}{7.2}{9.2}{12.8}
\bx{2.23}{anac}{0.6}{0.75}{0.9}{1.1}{1.5}
\bx{2.73}{frc}{2.3}{4.2}{4.8}{6.2}{7.3}
\bx{2.98}{simc}{1.9}{2.5}{3.1}{4.3}{5.3}
\bx{3.23}{anac}{0.8}{1.1}{1.4}{1.8}{2.6}
\bx{3.73}{frc}{4.5}{7.2}{8.2}{9.2}{10.3}
\bx{3.98}{simc}{2.2}{2.5}{2.9}{3.3}{3.9}
\bx{4.23}{anac}{1.3}{1.8}{2.2}{2.5}{3.0}
\bx{4.73}{frc}{1.5}{2.1}{2.5}{2.9}{3.3}
\bx{4.98}{simc}{0.7}{0.8}{0.95}{1.1}{1.5}
\bx{5.23}{anac}{0.5}{0.65}{0.8}{1.0}{1.5}
\node[anchor=north east, inner sep=0, font=\fontsize{18}{18}\selectfont] at (rel axis cs:0.98,0.864) {DA};
\end{axis}

% ---------------- (d) CORR, VE ----------------
\begin{axis}[rc, at={(315.5pt,-265pt)}, anchor=north west, height=96.2pt,
  ymin=-0.1, ymax=1.1, ytick={0,0.5,1}, ylabel={CORR}]
\vio{0.75}{frc}{-0.02 0\\0.1 0.03\\0.2 0.07\\0.28 0.09\\0.35 0.12\\0.45 0.19\\0.5 0.21\\0.58 0.17\\0.68 0.09\\0.78 0.04\\0.88 0\\}
\vio{1.0}{simc}{0.64 0\\0.67 0.03\\0.7 0.04\\0.73 0.02\\0.77 0.06\\0.8 0.14\\0.83 0.19\\0.87 0.12\\0.9 0.05\\0.93 0\\}
\vio{1.25}{anac}{0.62 0\\0.66 0.05\\0.7 0.08\\0.74 0.1\\0.78 0.17\\0.82 0.21\\0.86 0.13\\0.9 0.04\\0.93 0\\}
\vio{1.75}{frc}{0.08 0\\0.15 0.02\\0.22 0.05\\0.28 0.05\\0.35 0.05\\0.42 0.1\\0.5 0.19\\0.55 0.22\\0.62 0.18\\0.7 0.09\\0.78 0.04\\0.87 0\\}
\vio{2.0}{simc}{0.65 0\\0.68 0.03\\0.7 0.04\\0.73 0.02\\0.77 0.06\\0.8 0.15\\0.83 0.2\\0.87 0.1\\0.91 0.03\\0.94 0\\}
\vio{2.25}{anac}{0.65 0\\0.7 0.05\\0.74 0.08\\0.78 0.13\\0.83 0.22\\0.87 0.12\\0.9 0.04\\0.92 0\\}
\vio{2.75}{frc}{-0.1 0\\0.0 0.02\\0.1 0.06\\0.2 0.12\\0.3 0.19\\0.36 0.2\\0.45 0.16\\0.55 0.09\\0.65 0.04\\0.73 0\\}
\vio{3.0}{simc}{0.27 0\\0.35 0.02\\0.45 0.05\\0.55 0.12\\0.62 0.19\\0.68 0.22\\0.75 0.17\\0.85 0.08\\0.95 0.03\\1.07 0\\}
\vio{3.25}{anac}{0.42 0\\0.5 0.03\\0.55 0.05\\0.6 0.13\\0.66 0.21\\0.72 0.15\\0.78 0.07\\0.85 0\\}
\vio{3.75}{frc}{-0.05 0\\0.05 0.02\\0.12 0.05\\0.2 0.04\\0.3 0.06\\0.4 0.14\\0.5 0.22\\0.55 0.23\\0.62 0.2\\0.7 0.12\\0.78 0.05\\0.84 0\\}
\vio{4.0}{simc}{0.05 0\\0.12 0.04\\0.16 0.05\\0.22 0.02\\0.32 0.03\\0.42 0.1\\0.5 0.18\\0.56 0.2\\0.64 0.14\\0.72 0.07\\0.78 0.1\\0.82 0.05\\0.86 0\\}
\vio{4.25}{anac}{0.02 0\\0.1 0.02\\0.2 0.04\\0.3 0.06\\0.4 0.12\\0.5 0.19\\0.56 0.21\\0.65 0.15\\0.75 0.08\\0.85 0.04\\0.97 0\\}
\vio{4.75}{frc}{-0.1 0\\0.0 0.04\\0.1 0.09\\0.2 0.15\\0.3 0.19\\0.38 0.2\\0.48 0.15\\0.58 0.08\\0.7 0.03\\0.81 0\\}
\vio{5.0}{simc}{-0.1 0\\0.0 0.05\\0.1 0.1\\0.2 0.14\\0.3 0.16\\0.4 0.18\\0.5 0.2\\0.6 0.18\\0.7 0.12\\0.8 0.07\\0.9 0.04\\1.0 0.02\\1.1 0\\}
\vio{5.25}{anac}{-0.08 0\\0.0 0.03\\0.1 0.07\\0.2 0.12\\0.3 0.17\\0.4 0.2\\0.48 0.21\\0.58 0.18\\0.68 0.12\\0.8 0.05\\0.92 0.02\\1.05 0\\}
\pts{0.75}{frc}{-0.06 0.66\\-0.10 0.62\\-0.08 0.52\\-0.12 0.49\\-0.05 0.47\\-0.09 0.44\\-0.11 0.43\\-0.07 0.41\\-0.13 0.26\\-0.04 0.21\\}
\pts{1.0}{simc}{-0.06 0.88\\-0.10 0.85\\-0.08 0.84\\-0.12 0.82\\-0.05 0.8\\-0.09 0.78\\-0.11 0.76\\-0.07 0.68\\}
\pts{1.25}{anac}{-0.06 0.86\\-0.10 0.83\\-0.08 0.82\\-0.12 0.8\\-0.05 0.79\\-0.09 0.73\\-0.11 0.7\\-0.07 0.68\\}
\pts{1.75}{frc}{-0.06 0.71\\-0.10 0.65\\-0.08 0.62\\-0.12 0.58\\-0.05 0.56\\-0.09 0.52\\-0.11 0.5\\-0.07 0.49\\-0.13 0.25\\}
\pts{2.0}{simc}{-0.06 0.88\\-0.10 0.86\\-0.08 0.84\\-0.12 0.83\\-0.05 0.82\\-0.09 0.81\\-0.11 0.79\\-0.07 0.7\\}
\pts{2.25}{anac}{-0.06 0.85\\-0.10 0.83\\-0.08 0.82\\-0.12 0.8\\-0.05 0.78\\-0.09 0.75\\-0.11 0.73\\-0.07 0.72\\}
\pts{2.75}{frc}{-0.06 0.5\\-0.10 0.43\\-0.08 0.42\\-0.12 0.35\\-0.05 0.32\\-0.09 0.28\\-0.11 0.26\\-0.07 0.24\\}
\pts{3.0}{simc}{-0.06 0.81\\-0.10 0.78\\-0.08 0.72\\-0.12 0.7\\-0.05 0.66\\-0.09 0.62\\-0.11 0.59\\-0.07 0.57\\}
\pts{3.25}{anac}{-0.06 0.77\\-0.10 0.74\\-0.08 0.72\\-0.12 0.68\\-0.05 0.66\\-0.09 0.64\\-0.11 0.6\\-0.07 0.52\\}
\pts{3.75}{frc}{-0.06 0.66\\-0.10 0.64\\-0.08 0.58\\-0.12 0.55\\-0.05 0.5\\-0.09 0.48\\-0.11 0.45\\-0.07 0.16\\-0.13 0.13\\}
\pts{4.0}{simc}{-0.06 0.76\\-0.10 0.74\\-0.08 0.6\\-0.12 0.57\\-0.05 0.54\\-0.09 0.5\\-0.11 0.45\\-0.07 0.16\\}
\pts{4.25}{anac}{-0.06 0.76\\-0.10 0.72\\-0.08 0.6\\-0.12 0.57\\-0.05 0.52\\-0.09 0.48\\-0.11 0.17\\}
\pts{4.75}{frc}{-0.06 0.48\\-0.10 0.46\\-0.08 0.43\\-0.12 0.39\\-0.05 0.36\\-0.09 0.32\\-0.11 0.28\\-0.07 0.2\\-0.13 0.17\\-0.04 0.15\\}
\pts{5.0}{simc}{-0.06 0.63\\-0.10 0.57\\-0.08 0.55\\-0.12 0.48\\-0.05 0.38\\-0.09 0.3\\-0.11 0.28\\-0.07 0.25\\-0.13 0.2\\-0.04 0.17\\}
\pts{5.25}{anac}{-0.06 0.6\\-0.10 0.55\\-0.08 0.47\\-0.12 0.4\\-0.05 0.36\\-0.09 0.33\\-0.11 0.28\\-0.07 0.23\\-0.13 0.17\\}
\bx{0.73}{frc}{0.21}{0.375}{0.47}{0.55}{0.65}
\bx{0.98}{simc}{0.77}{0.79}{0.83}{0.86}{0.88}
\bx{1.23}{anac}{0.68}{0.75}{0.8}{0.83}{0.86}
\bx{1.73}{frc}{0.49}{0.5}{0.55}{0.62}{0.7}
\bx{1.98}{simc}{0.78}{0.8}{0.82}{0.85}{0.88}
\bx{2.23}{anac}{0.71}{0.76}{0.81}{0.83}{0.85}
\bx{2.73}{frc}{0.24}{0.28}{0.34}{0.4}{0.5}
\bx{2.98}{simc}{0.57}{0.61}{0.69}{0.73}{0.81}
\bx{3.23}{anac}{0.57}{0.62}{0.66}{0.7}{0.77}
\bx{3.73}{frc}{0.37}{0.44}{0.48}{0.6}{0.66}
\bx{3.98}{simc}{0.42}{0.47}{0.55}{0.62}{0.76}
\bx{4.23}{anac}{0.37}{0.48}{0.55}{0.6}{0.76}
\bx{4.73}{frc}{0.15}{0.25}{0.35}{0.44}{0.48}
\bx{4.98}{simc}{0.15}{0.22}{0.47}{0.55}{0.64}
\bx{5.23}{anac}{0.17}{0.26}{0.36}{0.53}{0.6}
\node[anchor=north east, inner sep=0, font=\fontsize{18}{18}\selectfont] at (rel axis cs:0.98,0.91) {VE};
\end{axis}

% ---------------- (e) RMSE, VE ----------------
\begin{axis}[rc, at={(315.5pt,-385.9pt)}, anchor=north west, height=96.6pt,
  ymin=-0.35, ymax=20.1, ytick={0,10,20}, ylabel={RMSE (µg m\textsuperscript{-3})},
  every axis y label/.append style={at={(axis description cs:-0.095,0.5)}},
  xticklabels={\ion{NH}{4}{+}, \ion{NO}{3}{-}, \ion{SO}{4}{2-}, OC, BC},
  xticklabel style={font=\fontsize{20}{20}\selectfont, yshift=-4pt}]
\vio{0.75}{frc}{1.0 0\\2 0.03\\3 0.07\\4 0.13\\5 0.19\\6 0.21\\7 0.15\\8 0.08\\9 0.04\\10.4 0\\}
\vio{1.0}{simc}{1.3 0\\2 0.07\\3 0.2\\3.5 0.21\\4.2 0.16\\5 0.08\\5.8 0.03\\6.7 0\\}
\vio{1.25}{anac}{1.2 0\\2 0.04\\2.8 0.12\\3.5 0.2\\3.9 0.22\\4.4 0.13\\5 0.04\\5.3 0\\}
\vio{1.75}{frc}{2.8 0\\4 0.02\\6 0.06\\8 0.14\\10 0.22\\11 0.24\\12 0.22\\14 0.14\\16 0.06\\17.5 0.02\\19.3 0\\}
\vio{2.0}{simc}{1.3 0\\3 0.04\\5 0.12\\6.5 0.2\\7.5 0.22\\8.5 0.2\\10 0.12\\12 0.05\\14.4 0\\}
\vio{2.25}{anac}{3.6 0\\5 0.06\\6.5 0.15\\8 0.22\\9 0.19\\10 0.09\\11.2 0\\}
\vio{2.75}{frc}{0.5 0\\1.5 0.03\\2.5 0.07\\3.5 0.13\\4.5 0.18\\5.2 0.19\\6 0.17\\7 0.12\\8 0.07\\9 0.03\\10.3 0\\}
\vio{3.0}{simc}{0.2 0\\1 0.04\\2 0.12\\2.8 0.2\\3.3 0.16\\4 0.22\\4.6 0.15\\5.3 0.1\\6 0.05\\7 0\\}
\vio{3.25}{anac}{1.4 0\\2 0.05\\2.5 0.05\\3 0.05\\3.6 0.13\\4.1 0.22\\4.6 0.13\\5.2 0.06\\6.1 0\\}
\vio{3.75}{frc}{4.8 0\\6 0.04\\7 0.09\\8 0.16\\9 0.23\\9.6 0.24\\10.3 0.13\\11 0.04\\11.6 0\\}
\vio{4.0}{simc}{0.9 0\\1.5 0.07\\2.2 0.18\\2.7 0.22\\3.2 0.18\\3.9 0.09\\4.5 0.03\\5.1 0\\}
\vio{4.25}{anac}{0.6 0\\1.3 0.07\\2 0.17\\2.6 0.22\\3.2 0.18\\4 0.1\\5 0.04\\6 0\\}
\vio{4.75}{frc}{1.9 0\\2.3 0.08\\2.7 0.2\\3.0 0.15\\3.3 0.06\\3.6 0\\}
\vio{5.0}{simc}{0.6 0\\0.75 0.08\\0.9 0.2\\1.05 0.12\\1.3 0\\}
\vio{5.25}{anac}{0.5 0\\0.65 0.06\\0.8 0.2\\0.95 0.12\\1.3 0\\}
\pts{0.75}{frc}{-0.06 8.2\\-0.10 6.5\\-0.08 6.3\\-0.12 6.0\\-0.05 5.6\\-0.09 5.2\\-0.11 4.8\\-0.07 3.3\\}
\pts{1.0}{simc}{-0.06 5.1\\-0.10 4.2\\-0.08 3.8\\-0.12 3.4\\-0.05 3.2\\-0.09 2.8\\-0.11 2.4\\-0.07 2.0\\}
\pts{1.25}{anac}{-0.06 4.2\\-0.10 3.9\\-0.08 3.8\\-0.12 3.6\\-0.05 3.3\\-0.09 3.0\\-0.11 2.9\\-0.07 2.3\\}
\pts{1.75}{frc}{-0.06 14.2\\-0.10 13.0\\-0.08 12.7\\-0.12 10.8\\-0.05 10.7\\-0.09 9.5\\-0.11 9.2\\-0.07 7.9\\}
\pts{2.0}{simc}{-0.06 9.9\\-0.10 9.8\\-0.08 9.3\\-0.12 8.2\\-0.05 7.5\\-0.09 6.5\\-0.11 6.3\\-0.07 5.8\\}
\pts{2.25}{anac}{-0.06 9.0\\-0.10 8.5\\-0.08 8.2\\-0.12 7.9\\-0.05 7.6\\-0.09 7.2\\-0.11 6.8\\-0.07 5.6\\}
\pts{2.75}{frc}{-0.06 7.0\\-0.10 6.8\\-0.08 5.6\\-0.12 5.3\\-0.05 5.0\\-0.09 4.8\\-0.11 4.3\\}
\pts{3.0}{simc}{-0.06 5.8\\-0.10 4.8\\-0.08 4.5\\-0.12 3.9\\-0.05 3.3\\-0.09 3.0\\-0.11 2.8\\-0.07 1.6\\}
\pts{3.25}{anac}{-0.06 5.6\\-0.10 4.5\\-0.08 4.2\\-0.12 4.0\\-0.05 3.8\\-0.09 3.6\\-0.11 2.1\\}
\pts{3.75}{frc}{-0.06 10.0\\-0.10 9.3\\-0.08 9.0\\-0.12 8.8\\-0.05 8.5\\-0.09 7.6\\-0.11 6.1\\}
\pts{4.0}{simc}{-0.06 3.9\\-0.10 3.4\\-0.08 3.0\\-0.12 2.7\\-0.05 2.5\\-0.09 2.1\\-0.11 1.7\\}
\pts{4.25}{anac}{-0.06 3.8\\-0.10 3.4\\-0.08 3.0\\-0.12 2.7\\-0.05 2.4\\-0.09 2.1\\-0.11 1.6\\}
\pts{4.75}{frc}{-0.06 3.1\\-0.10 2.9\\-0.08 2.8\\-0.12 2.7\\-0.05 2.6\\-0.09 2.5\\}
\pts{5.0}{simc}{-0.06 1.2\\-0.10 1.0\\-0.08 0.9\\-0.12 0.8\\-0.05 0.8\\-0.09 0.7\\}
\pts{5.25}{anac}{-0.06 1.2\\-0.10 1.0\\-0.08 0.9\\-0.12 0.8\\-0.05 0.7\\-0.09 0.6\\}
\bx{0.73}{frc}{3.5}{5.1}{5.5}{6.5}{8.0}
\bx{0.98}{simc}{2.0}{2.9}{3.2}{4.6}{5.2}
\bx{1.23}{anac}{2.5}{3.2}{3.6}{4.0}{4.3}
\bx{1.73}{frc}{8.0}{9.1}{10.7}{12.8}{14.0}
\bx{1.98}{simc}{5.5}{6.1}{7.5}{9.5}{10.0}
\bx{2.23}{anac}{5.5}{7.2}{8.1}{8.4}{9.3}
\bx{2.73}{frc}{4.2}{4.6}{5.3}{6.1}{7.0}
\bx{2.98}{simc}{1.6}{2.6}{3.2}{4.2}{5.3}
\bx{3.23}{anac}{3.5}{3.8}{4.1}{4.3}{4.6}
\bx{3.73}{frc}{6.6}{8.1}{9.0}{9.6}{9.9}
\bx{3.98}{simc}{1.8}{2.3}{2.6}{3.0}{3.6}
\bx{4.23}{anac}{1.5}{2.3}{2.6}{3.0}{3.7}
\bx{4.73}{frc}{2.4}{2.6}{2.7}{2.9}{3.1}
\bx{4.98}{simc}{0.7}{0.8}{0.9}{1.0}{1.2}
\bx{5.23}{anac}{0.6}{0.7}{0.85}{1.0}{1.2}
\node[anchor=north east, inner sep=0, font=\fontsize{18}{18}\selectfont] at (rel axis cs:0.98,0.864) {VE};
\end{axis}

% panel tags
\begin{scope}[every node/.style={anchor=west, inner sep=0, font=\fontsize{21}{21}\selectfont}]
\node at (5pt,-17pt) {(a1)};
\node at (5pt,-114pt) {(a2)};
\node at (5pt,-211pt) {(a3)};
\node at (5pt,-305pt) {(a4)};
\node at (5pt,-400.5pt) {(a5)};
\node at (274.5pt,-17pt) {(b)};
\node at (274.5pt,-131pt) {(c)};
\node at (274.5pt,-262pt) {(d)};
\node at (274.5pt,-376pt) {(e)};
\end{scope}

% legend
\fill[frc] (200pt,-527.5pt) rectangle (234pt,-542.5pt);
\node[anchor=base west, inner sep=0, text=frc, font=\fontsize{20}{20}\selectfont] at (241.5pt,-539.5pt) {FR};
\fill[simc] (302pt,-527.5pt) rectangle (336pt,-542.5pt);
\node[anchor=base west, inner sep=0, text=simc, font=\fontsize{20}{20}\selectfont] at (344pt,-539.5pt) {SIM};
\fill[anac] (402.5pt,-527.5pt) rectangle (436.5pt,-542.5pt);
\node[anchor=base west, inner sep=0, text=anac, font=\fontsize{20}{20}\selectfont] at (444pt,-539.5pt) {ANA};
\end{tikzpicture}
\end{document}
